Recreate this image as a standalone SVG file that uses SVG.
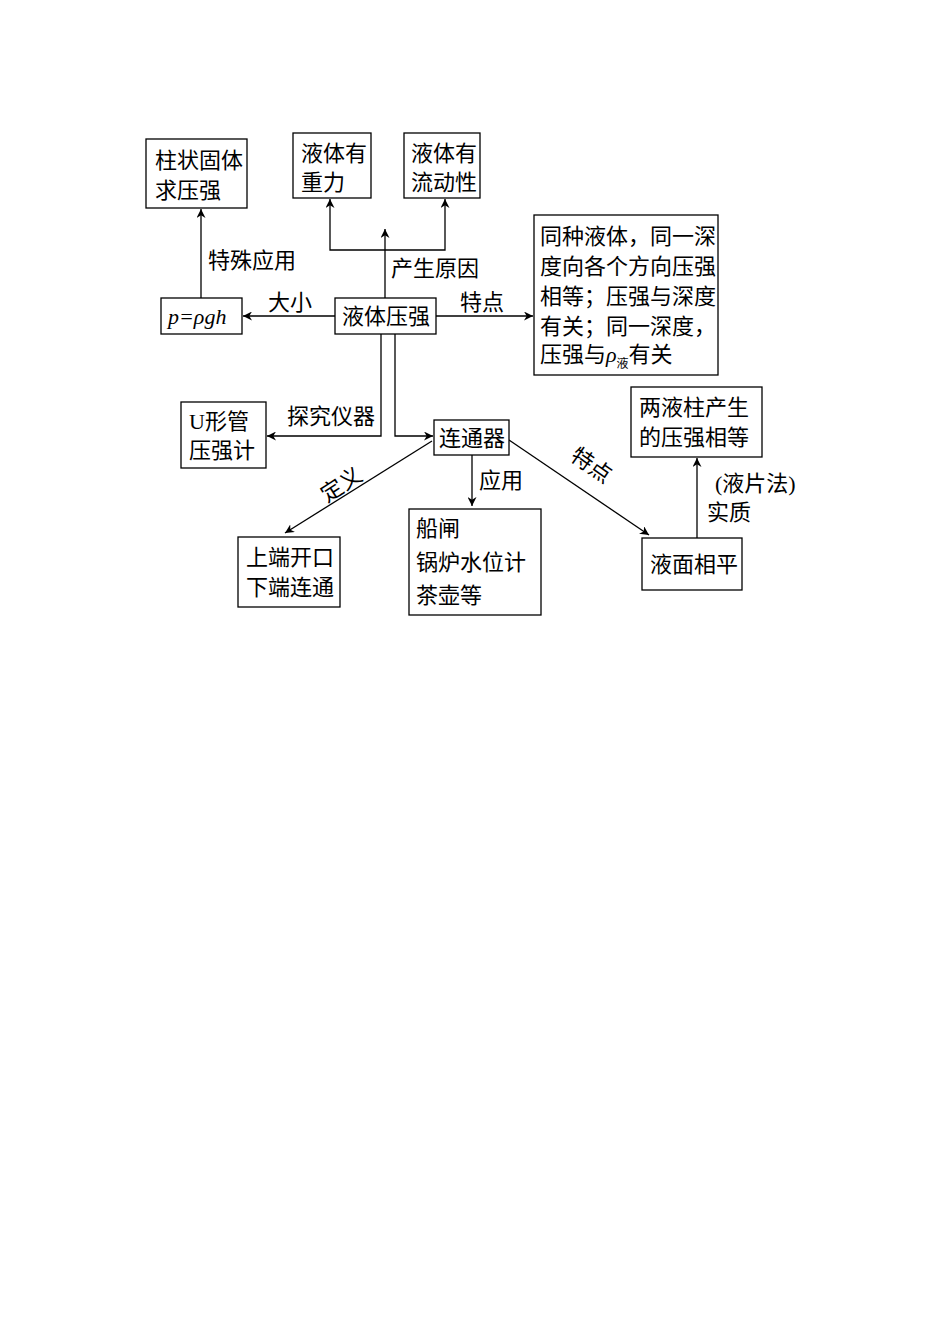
<svg xmlns="http://www.w3.org/2000/svg" width="950" height="1344" viewBox="0 0 950 1344">
<style>
rect{fill:#fff;stroke:#000;stroke-width:1.3}
text{font-family:"Liberation Serif","Noto Sans CJK SC",serif;font-size:22px;fill:#000}
.c line,.c polyline{stroke:#000;stroke-width:1.3;fill:none}
</style>
<defs><marker id="a" viewBox="0 0 10 10" refX="10" refY="5" markerWidth="9" markerHeight="9" markerUnits="userSpaceOnUse" orient="auto"><path d="M0,0L10,5L0,10L3,5z" fill="#000"/></marker></defs>
<rect width="950" height="1344" style="stroke:none"/>
<g class="c">
<line x1="201" y1="298" x2="201" y2="209" marker-end="url(#a)"/>
<line x1="335" y1="316" x2="243" y2="316" marker-end="url(#a)"/>
<line x1="436" y1="316" x2="533" y2="316" marker-end="url(#a)"/>
<line x1="385" y1="298" x2="385" y2="229" marker-end="url(#a)"/>
<polyline points="330,230 330,250 445,250 445,230"/>
<line x1="330" y1="230" x2="330" y2="199" marker-end="url(#a)"/>
<line x1="445" y1="230" x2="445" y2="199" marker-end="url(#a)"/>
<polyline points="381,334 381,436 267,436" marker-end="url(#a)"/>
<polyline points="395,334 395,436 433,436" marker-end="url(#a)"/>
<line x1="432" y1="441" x2="285" y2="533" marker-end="url(#a)"/>
<line x1="472" y1="455" x2="472" y2="506" marker-end="url(#a)"/>
<line x1="509" y1="440" x2="649" y2="535" marker-end="url(#a)"/>
<line x1="697" y1="538" x2="697" y2="458" marker-end="url(#a)"/>
</g>
<g id="n1"><rect x="146" y="139" width="101" height="69"/><text x="155" y="168">柱状固体</text><text x="155" y="198">求压强</text></g>
<g id="n2"><rect x="293" y="133" width="78" height="65"/><text x="301" y="161">液体有</text><text x="301" y="190">重力</text></g>
<g id="n3"><rect x="404" y="133" width="76" height="65"/><text x="411" y="161">液体有</text><text x="411" y="190">流动性</text></g>
<g id="n4"><rect x="161" y="298" width="81" height="36"/><text x="168" y="324" font-style="italic">p=ρgh</text></g>
<g id="n5"><rect x="335" y="298" width="101" height="36"/><text x="342" y="324">液体压强</text></g>
<g id="n6"><rect x="534" y="215" width="184" height="160"/>
<text x="540" y="244">同种液体，同一深</text><text x="540" y="274">度向各个方向压强</text><text x="540" y="304">相等；压强与深度</text><text x="540" y="334">有关；同一深度，</text><text x="540" y="362">压强与<tspan font-style="italic">ρ</tspan><tspan font-size="12" dy="6">液</tspan><tspan dy="-6">有关</tspan></text></g>
<g id="n7"><rect x="181" y="402" width="85" height="66"/><text x="189" y="429">U形管</text><text x="189" y="458">压强计</text></g>
<g id="n8"><rect x="434" y="420" width="75" height="35"/><text x="439" y="446">连通器</text></g>
<g id="n9"><rect x="238" y="537" width="102" height="70"/><text x="246" y="565">上端开口</text><text x="246" y="595">下端连通</text></g>
<g id="n10"><rect x="409" y="509" width="132" height="106"/><text x="416" y="536">船闸</text><text x="416" y="570">锅炉水位计</text><text x="416" y="603">茶壶等</text></g>
<g id="n11"><rect x="642" y="538" width="100" height="52"/><text x="650" y="572">液面相平</text></g>
<g id="n12"><rect x="631" y="387" width="131" height="70"/><text x="639" y="415">两液柱产生</text><text x="639" y="445">的压强相等</text></g>
<g id="labels">
<text x="208" y="268">特殊应用</text>
<text x="391" y="276">产生原因</text>
<text x="268" y="310">大小</text>
<text x="460" y="310">特点</text>
<text x="287" y="424">探究仪器</text>
<text x="0" y="0" transform="translate(327,503) rotate(-33)">定义</text>
<text x="479" y="488">应用</text>
<text x="0" y="0" transform="translate(569,459) rotate(35)">特点</text>
<text x="715" y="491">(液片法)</text>
<text x="707" y="520">实质</text>
</g>
</svg>
